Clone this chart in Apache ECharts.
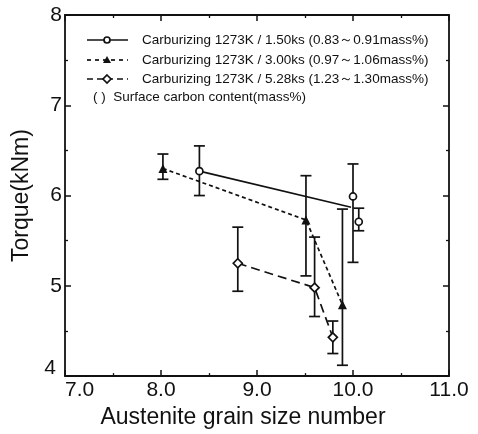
<!DOCTYPE html>
<html>
<head>
<meta charset="utf-8">
<script src="https://cdn.jsdelivr.net/npm/echarts@6/dist/echarts.min.js"></script>
<style>
html,body{margin:0;padding:0;background:#fff;}
#chart{width:478px;height:434px;}
</style>
</head>
<body>
<div id="chart"></div>
<script>
// ---- Data ----
const seriesNames = [
  'Carburizing 1273K / 1.50ks (0.83～0.91mass%)',
  'Carburizing 1273K / 3.00ks (0.97～1.06mass%)',
  'Carburizing 1273K / 5.28ks (1.23～1.30mass%)'
];
const noteText = '( )  Surface carbon content(mass%)';

// 1.50 ks (circles)
const s1X  = [8.40, 10.00, 10.06];
const s1Y  = [6.27, 5.99, 5.71];
const s1Lo = [6.00, 5.26, 5.61];
const s1Hi = [6.55, 6.35, 5.86];
// trend line drawn for the 1.50 ks group
const s1LineX = [8.40, 9.98];
const s1LineY = [6.27, 5.87];

// 3.00 ks (triangles)
const s2X  = [8.02, 9.51, 9.89];
const s2Y  = [6.30, 5.73, 4.79];
const s2Lo = [6.18, 5.11, 4.12];
const s2Hi = [6.46, 6.22, 5.85];

// 5.28 ks (diamonds)
const s3X  = [8.80, 9.60, 9.79];
const s3Y  = [5.25, 4.98, 4.43];
const s3Lo = [4.94, 4.66, 4.25];
const s3Hi = [5.65, 5.54, 4.61];

const xMin = 7, xMax = 11, xInterval = 1;
const yMin = 4, yMax = 8, yInterval = 1;
const xAxisTitle = 'Austenite grain size number';
const yAxisTitle = 'Torque(kNm)';

// ---- Chart ----
const zip = (a, b) => a.map((v, i) => [v, b[i]]);
const zip3 = (a, b, c) => a.map((v, i) => [v, b[i], c[i]]);
const FONT = 'Liberation Sans';
const INK = '#111';

function errRender(params, api) {
  const x = api.value(0), lo = api.value(1), hi = api.value(2);
  const p1 = api.coord([x, lo]);
  const p2 = api.coord([x, hi]);
  const w = 5.5;
  const st = { stroke: INK, lineWidth: 1.7 };
  return {
    type: 'group',
    children: [
      { type: 'line', shape: { x1: p1[0], y1: p1[1], x2: p2[0], y2: p2[1] }, style: st },
      { type: 'line', shape: { x1: p1[0] - w, y1: p1[1], x2: p1[0] + w, y2: p1[1] }, style: st },
      { type: 'line', shape: { x1: p2[0] - w, y1: p2[1], x2: p2[0] + w, y2: p2[1] }, style: st }
    ]
  };
}

const axisCommon = {
  axisLine: { show: true, lineStyle: { color: INK, width: 1.8 } },
  axisTick: { show: true, inside: true, length: 6, lineStyle: { color: INK, width: 1.5 } },
  minorTick: { show: true, splitNumber: 2, length: 3, lineStyle: { color: INK, width: 1.3 } },
  splitLine: { show: false },
  minorSplitLine: { show: false }
};

const option = {
  animation: false,
  backgroundColor: '#fff',
  grid: { left: 65, right: 29, top: 15, bottom: 53, containLabel: false },
  xAxis: [
    Object.assign({
      type: 'value', min: xMin, max: xMax, interval: xInterval, position: 'bottom',
      name: xAxisTitle, nameLocation: 'middle', nameGap: 25,
      nameTextStyle: { fontFamily: FONT, fontSize: 23, color: INK, padding: [0, 28, 0, 0] },
      axisLabel: {
        show: true, margin: 4, fontFamily: FONT, fontSize: 21, color: INK,
        alignMinLabel: 'left',
        formatter: v => v.toFixed(1)
      }
    }, axisCommon),
    Object.assign({
      type: 'value', min: xMin, max: xMax, interval: xInterval, position: 'top',
      axisLabel: { show: false }
    }, axisCommon)
  ],
  yAxis: [
    Object.assign({
      type: 'value', min: yMin, max: yMax, interval: yInterval, position: 'left',
      name: yAxisTitle, nameLocation: 'middle', nameGap: 31,
      nameTextStyle: { fontFamily: FONT, fontSize: 23, color: INK },
      axisLabel: {
        show: true, margin: 3, fontFamily: FONT, fontSize: 21, color: INK,
        formatter: v => (v === yMin ? '{b|' + v + '}' : String(v)),
        rich: { b: { fontFamily: FONT, fontSize: 21, color: INK, padding: [0, 6, 16, 0] } }
      }
    }, axisCommon),
    Object.assign({
      type: 'value', min: yMin, max: yMax, interval: yInterval, position: 'right',
      axisLabel: { show: false }
    }, axisCommon)
  ],
  graphic: [
    // legend samples
    { type: 'line', shape: { x1: 87, y1: 40, x2: 128, y2: 40 }, style: { stroke: INK, lineWidth: 1.7 } },
    { type: 'circle', shape: { cx: 107, cy: 40, r: 3 }, style: { fill: '#fff', stroke: INK, lineWidth: 1.7 } },
    { type: 'line', shape: { x1: 87, y1: 60, x2: 128, y2: 60 }, style: { stroke: INK, lineWidth: 1.7, lineDash: [4, 4] } },
    { type: 'polygon', shape: { points: [[107, 56], [111, 63], [103, 63]] }, style: { fill: INK } },
    { type: 'line', shape: { x1: 87, y1: 79, x2: 128, y2: 79 }, style: { stroke: INK, lineWidth: 1.7, lineDash: [6, 4] } },
    { type: 'polygon', shape: { points: [[107, 75], [111, 79], [107, 83], [103, 79]] }, style: { fill: '#fff', stroke: INK, lineWidth: 1.7 } },
    { type: 'text', style: { x: 142, y: 40, text: seriesNames[0], fontFamily: FONT, fontSize: 13.5, fill: INK, verticalAlign: 'middle' } },
    { type: 'text', style: { x: 142, y: 60, text: seriesNames[1], fontFamily: FONT, fontSize: 13.5, fill: INK, verticalAlign: 'middle' } },
    { type: 'text', style: { x: 142, y: 79, text: seriesNames[2], fontFamily: FONT, fontSize: 13.5, fill: INK, verticalAlign: 'middle' } },
    { type: 'text', style: { x: 93, y: 97, text: noteText, fontFamily: FONT, fontSize: 13.5, fill: INK, verticalAlign: 'middle' } }
  ],
  series: [
    { type: 'custom', name: 'err1', renderItem: errRender, data: zip3(s1X, s1Lo, s1Hi), z: 2 },
    { type: 'custom', name: 'err2', renderItem: errRender, data: zip3(s2X, s2Lo, s2Hi), z: 2 },
    { type: 'custom', name: 'err3', renderItem: errRender, data: zip3(s3X, s3Lo, s3Hi), z: 2 },
    {
      type: 'line', name: 'trend1', data: zip(s1LineX, s1LineY), showSymbol: false, symbol: 'none',
      lineStyle: { color: INK, width: 1.7, type: 'solid' }, z: 3
    },
    {
      type: 'line', name: seriesNames[0], data: zip(s1X, s1Y), symbol: 'circle', symbolSize: 7,
      lineStyle: { width: 0, opacity: 0 },
      itemStyle: { color: '#fff', borderColor: INK, borderWidth: 1.7 }, z: 4
    },
    {
      type: 'line', name: seriesNames[1], data: zip(s2X, s2Y), symbol: 'triangle', symbolSize: 9,
      lineStyle: { color: INK, width: 1.7, type: [4, 3] },
      itemStyle: { color: INK, borderColor: INK, borderWidth: 0 }, z: 4
    },
    {
      type: 'line', name: seriesNames[2], data: zip(s3X, s3Y), symbol: 'diamond', symbolSize: 9,
      lineStyle: { color: INK, width: 1.7, type: [9, 5] },
      itemStyle: { color: '#fff', borderColor: INK, borderWidth: 1.7 }, z: 4
    }
  ]
};

const chart = echarts.init(document.getElementById('chart'), null, { renderer: 'canvas' });
chart.setOption(option);
</script>
</body>
</html>
